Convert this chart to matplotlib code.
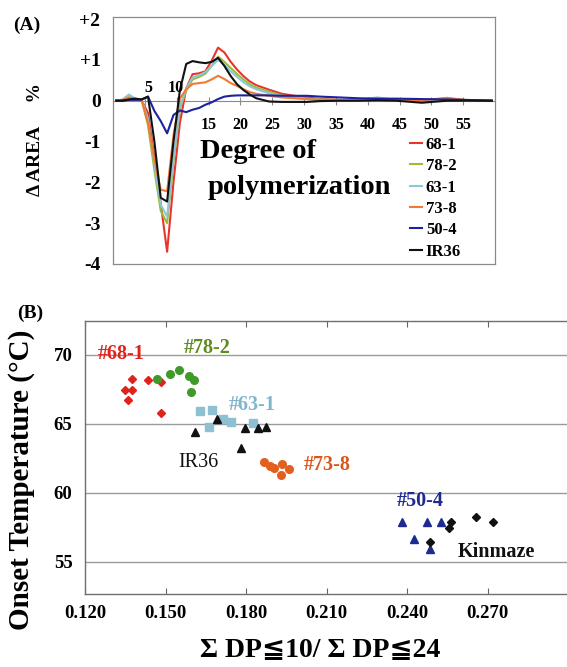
import numpy as np
import matplotlib
matplotlib.use('Agg')
import matplotlib.pyplot as plt

plt.rcParams['font.family'] = ['Liberation Serif', 'DejaVu Serif', 'DejaVu Sans']

# ---- panel A: change in chain-length distribution ----
dp = [0.5, 1.5, 2.5, 3.5, 4.5, 5.5, 6.5, 7.5, 8.5, 9.5, 10.5, 11.5, 12.5, 13.5,
      14.5, 15.5, 16.5, 17.5, 18.5, 19.5, 20.5, 21.5, 22.5, 24.5, 26.5, 28.5,
      30.5, 32.5, 35.5, 38.5, 41.5, 44.5, 48.5, 52.5, 55.5, 59.5]

area_68_1 = [0, 0, 0.05, 0.03, 0.0, -0.3, -1.4, -2.52, -3.70, -2.0, -0.55, 0.3,
             0.65, 0.67, 0.72, 0.98, 1.30, 1.18, 0.95, 0.76, 0.60, 0.47, 0.38,
             0.27, 0.17, 0.12, 0.08, 0.04, 0.02, 0.01, 0.02, 0.02, 0.0, 0.04, 0.01, 0.0]
area_78_2 = [0, 0.02, 0.08, 0.05, 0.02, -0.6, -1.7, -2.7, -3.0, -1.5, -0.2, 0.25,
             0.52, 0.58, 0.66, 0.85, 1.08, 0.95, 0.80, 0.65, 0.52, 0.40, 0.32,
             0.22, 0.13, 0.08, 0.05, 0.03, 0.01, 0.01, 0.02, 0.01, 0.0, 0.06, 0.01, 0.0]
area_63_1 = [0, 0.03, 0.15, 0.05, 0.02, -0.45, -1.55, -2.55, -2.84, -1.4, -0.15, 0.3,
             0.57, 0.62, 0.70, 0.85, 1.00, 0.88, 0.72, 0.58, 0.45, 0.35, 0.28,
             0.18, 0.11, 0.07, 0.04, 0.02, 0.01, 0.02, 0.08, 0.02, 0.01, 0.02, 0.0, 0.0]
area_73_8 = [0, 0.02, 0.08, 0.04, 0.02, -0.55, -1.45, -2.18, -2.22, -0.85, 0.05, 0.28,
             0.41, 0.43, 0.45, 0.52, 0.61, 0.53, 0.43, 0.36, 0.28, 0.21, 0.17,
             0.12, 0.08, 0.06, 0.04, 0.02, 0.01, 0.0, 0.02, 0.01, 0.01, 0.07, 0.01, 0.0]
area_50_4 = [0, 0, 0.02, 0.02, 0.03, 0.1, -0.25, -0.5, -0.8, -0.35, -0.24, -0.28,
             -0.22, -0.18, -0.1, -0.04, 0.04, 0.1, 0.12, 0.13, 0.13, 0.13, 0.13,
             0.13, 0.12, 0.12, 0.12, 0.1, 0.08, 0.06, 0.05, 0.05, 0.04, 0.03, 0.02, 0.0]
area_ir36 = [0, 0, 0.03, 0.05, 0.03, 0.1, -1.0, -2.38, -2.47, -1.0, 0.25, 0.9,
             0.97, 0.94, 0.92, 0.95, 1.05, 0.85, 0.60, 0.40, 0.26, 0.15, 0.06,
             -0.02, -0.03, -0.03, -0.03, -0.01, 0.0, 0.0, 0.01, 0.0, -0.05, 0.0, 0.0, 0.0]

lines_a = [('68-1', area_68_1, '#e8352b'),
           ('78-2', area_78_2, '#9cbb3c'),
           ('63-1', area_63_1, '#8cc6d8'),
           ('73-8', area_73_8, '#f07a32'),
           ('50-4', area_50_4, '#1c22a0'),
           ('IR36', area_ir36, '#111111')]

a_yticks = [-4, -3, -2, -1, 0, 1, 2]
a_ylabels = ['-4', '-3', '-2', '-1', '0', '+1', '+2']
a_xticks = [5, 10, 15, 20, 25, 30, 35, 40, 45, 50, 55]
a_xlabels = ['', '', '15', '20', '25', '30', '35', '40', '45', '50', '55']

# ---- panel B: onset temperature vs short-chain ratio ----
x_68_1 = [0.1349, 0.1374, 0.1374, 0.1362, 0.1434, 0.1484, 0.1484]
y_68_1 = [67.46, 67.46, 68.26, 66.74, 68.19, 68.07, 65.82]
x_78_2 = [0.1469, 0.1518, 0.1549, 0.1586, 0.1605, 0.1596]
y_78_2 = [68.24, 68.62, 68.91, 68.50, 68.19, 67.30]
x_63_1 = [0.1630, 0.1673, 0.1663, 0.1713, 0.1744, 0.1825]
y_63_1 = [65.94, 66.00, 64.80, 65.34, 65.17, 65.09]
x_ir36 = [0.1611, 0.1690, 0.1782, 0.1798, 0.1845, 0.1873]
y_ir36 = [64.44, 65.36, 63.24, 64.69, 64.69, 64.76]
x_73_8 = [0.1867, 0.1889, 0.1904, 0.1933, 0.1931, 0.1960]
y_73_8 = [62.27, 61.96, 61.81, 62.08, 61.30, 61.72]
x_50_4 = [0.2382, 0.2475, 0.2525, 0.2425, 0.2484]
y_50_4 = [57.88, 57.92, 57.88, 56.64, 55.92]
x_kin = [0.2562, 0.2556, 0.2656, 0.2720, 0.2484]
y_kin = [57.92, 57.44, 58.28, 57.88, 56.47]

b_xticks = [0.120, 0.150, 0.180, 0.210, 0.240, 0.270]
b_xlabels = ['0.120', '0.150', '0.180', '0.210', '0.240', '0.270']
b_yticks = [55, 60, 65, 70]

W, H = 567, 667
fig = plt.figure(figsize=(W / 100, H / 100), dpi=100)

# ---------------- panel A ----------------
axA = fig.add_axes([113 / W, 1 - 264 / H, (495 - 113) / W, (264 - 17) / H])
for name, vals, col in lines_a:
    axA.plot(dp, vals, color=col, lw=1.5, label=name, zorder=3)
axA.set_xlim(0, 60)
axA.set_ylim(-4, 2.05)
axA.set_xticks([])
axA.set_yticks(a_yticks)
axA.set_yticklabels(a_ylabels, fontsize=14, fontweight='bold')
axA.tick_params(axis='y', length=0, pad=9)
for s in axA.spines.values():
    s.set_color('#8a8a8a')
    s.set_linewidth(0.9)

# x axis drawn along the zero line
zero_loc = (0 - axA.get_ylim()[0]) / (axA.get_ylim()[1] - axA.get_ylim()[0])
secA = axA.secondary_xaxis(zero_loc)
secA.set_alignment('bottom')
secA.set_xticks(a_xticks)
secA.set_xticklabels(a_xlabels, fontsize=11.5, fontweight='bold')
secA.tick_params(direction='inout', length=6, color='#8a8a8a', pad=9)
secA.spines['bottom'].set_color('#8a8a8a')
fig.text(148 / W, 1 - 88 / H, '5', fontsize=11.5, fontweight='bold',
         ha='center', va='center')
fig.text(176 / W, 1 - 88 / H, '10', fontsize=11.5, fontweight='bold',
         ha='center', va='center')

fig.text(200 / W, 1 - 151 / H, 'Degree of', fontsize=20.5, fontweight='bold',
         ha='left', va='center')
fig.text(208 / W, 1 - 187 / H, 'polymerization', fontsize=20.5,
         fontweight='bold', ha='left', va='center')

fig.text(36 / W, 1 - 140 / H, 'Δ AREA     %', fontsize=14, fontweight='bold',
         rotation=90, ha='center', va='center')
fig.text(27 / W, 1 - 25 / H, '(A)', fontsize=14, fontweight='bold',
         ha='center', va='center')

axA.legend(loc='upper left', bbox_to_anchor=(410 / W, 1 - 137 / H),
           bbox_transform=fig.transFigure, frameon=False, borderpad=0,
           borderaxespad=0, handlelength=0.7, handletextpad=0.25,
           labelspacing=0.32, prop={'weight': 'bold', 'size': 12})

# ---------------- panel B ----------------
axB = fig.add_axes([85 / W, 1 - 594 / H, 1.01 - 85 / W, (594 - 321) / H])
axB.set_xlim(0.12, 0.3017)
axB.set_ylim(52.68, 72.46)
axB.yaxis.grid(True, color='#9a9a9a', lw=1)
axB.set_axisbelow(True)

axB.plot(x_68_1, y_68_1, 'D', color='#e0221c', ms=4.5, ls='none')
axB.plot(x_78_2, y_78_2, 'o', color='#3f9a2a', ms=5.5, ls='none')
axB.plot(x_63_1, y_63_1, 's', color='#8ec0d4', ms=5.5, ls='none')
axB.plot(x_ir36, y_ir36, '^', color='#111111', ms=5.5, ls='none')
axB.plot(x_73_8, y_73_8, 'o', color='#e2601e', ms=5.5, ls='none')
axB.plot(x_50_4, y_50_4, '^', color='#1e2a92', ms=6, ls='none')
axB.plot(x_kin, y_kin, 'D', color='#111111', ms=4, ls='none')

axB.set_xticks(b_xticks)
axB.set_xticklabels(b_xlabels, fontsize=13.5, fontweight='bold')
axB.set_yticks(b_yticks)
axB.set_yticklabels([str(v) for v in b_yticks], fontsize=13.5, fontweight='bold')
axB.tick_params(axis='x', direction='in', top=True, length=4, color='#666666', pad=8)
axB.tick_params(axis='y', length=0, pad=9)
for s in axB.spines.values():
    s.set_color('#707070')
    s.set_linewidth(1)

lab_kw = dict(fontsize=14.5, ha='left', va='center')
axB.text(0.1249, 70.1, '#68-1', color='#e0221c', fontweight='bold', **lab_kw)
axB.text(0.1567, 70.5, '#78-2', color='#5e8a1e', fontweight='bold', **lab_kw)
axB.text(0.1736, 66.4, '#63-1', color='#7fb6cc', fontweight='bold', **lab_kw)
axB.text(0.1549, 62.2, 'IR36', color='#111111', **lab_kw)
axB.text(0.2016, 62.05, '#73-8', color='#d9561a', fontweight='bold', **lab_kw)
axB.text(0.2360, 59.45, '#50-4', color='#1e2a92', fontweight='bold', **lab_kw)
axB.text(0.2588, 55.7, 'Kinmaze', color='#111111', fontweight='bold', **lab_kw)

fig.text(22 / W, 1 - 480 / H, 'Onset Temperature (°C)', fontsize=21,
         fontweight='bold', rotation=90, ha='center', va='center')
fig.text(320 / W, 1 - 650 / H, 'Σ DP≦10/ Σ DP≦24', fontsize=20,
         fontweight='bold', ha='center', va='center')
fig.text(30 / W, 1 - 313 / H, '(B)', fontsize=14, fontweight='bold',
         ha='center', va='center')

plt.savefig('out.png', dpi=100)
